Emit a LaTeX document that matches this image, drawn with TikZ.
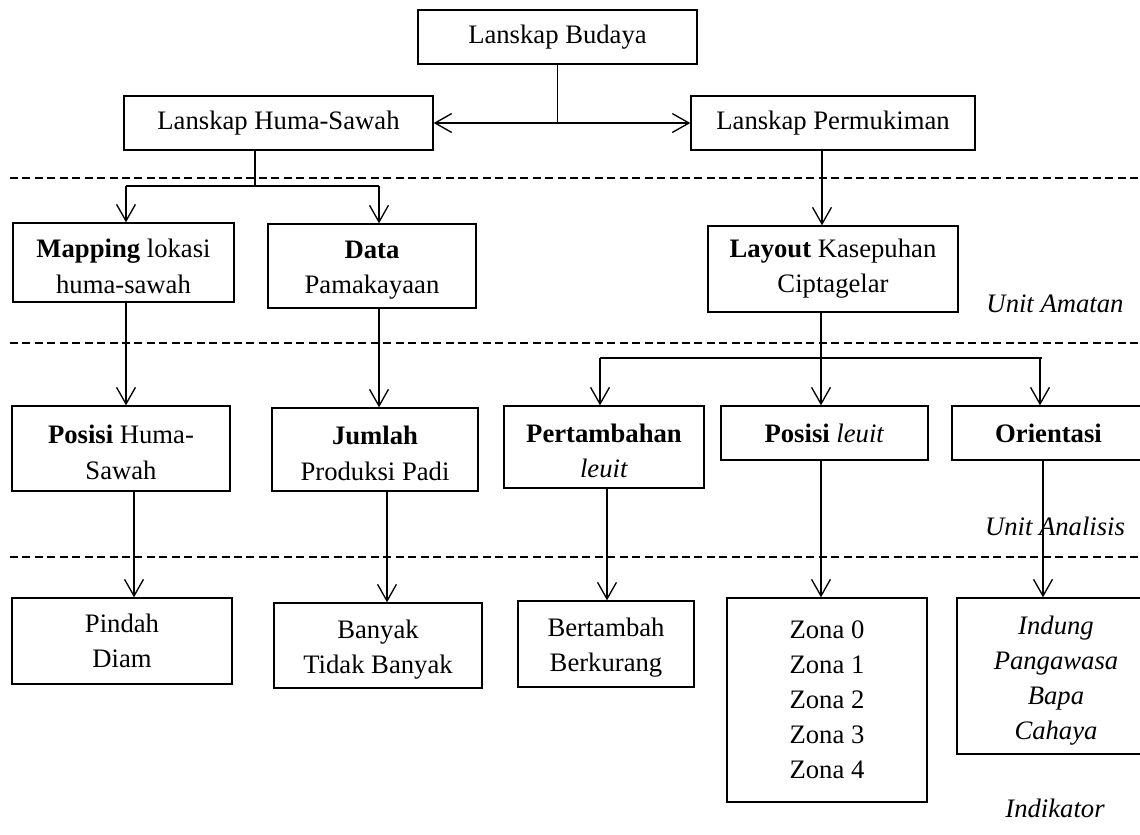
\documentclass[tikz,border=0pt]{standalone}
\usepackage{fontspec}
\setmainfont{Liberation Serif}
\usetikzlibrary{arrows.meta}
\newcommand{\px}{0.45pt}

\begin{document}
\begin{tikzpicture}[x=0.45pt, y=-0.45pt, line width=0.6pt,
    >={Straight Barb[length=7.5pt,width=8.5pt]},
    box/.style={draw=black, align=center, inner sep=0pt, font=\fontsize{12}{15.8}\selectfont},
    low/.style={text height=27.6pt},
    sep/.style={black, line width=0.5pt, dash pattern=on 3.6pt off 2pt},
    lvl/.style={font=\fontsize{12}{15.8}\selectfont\itshape}]
\clip (0,0) rectangle (1140,834);

\draw[sep] (10,178) -- (1140,178);
\draw[sep] (10,343) -- (1140,343);
\draw[sep] (10,557) -- (1140,557);

\node[box, minimum width=279*\px, minimum height=54*\px] (budaya) at (557.5,37) {Lanskap Budaya};
\node[box, minimum width=309*\px, minimum height=54*\px] (huma) at (278.5,123) {Lanskap Huma-Sawah};
\node[box, minimum width=284*\px, minimum height=54*\px] (perm) at (833,123) {Lanskap Permukiman};

\node[box, low, minimum width=221*\px, minimum height=79*\px] (map) at (123.5,262.5) {\textbf{Mapping} lokasi\\huma-sawah};
\node[box, low, minimum width=208*\px, minimum height=84*\px] (data) at (372,266) {\textbf{Data}\\Pamakayaan};
\node[box, minimum width=250*\px, minimum height=86*\px] (lay) at (833,269) {\textbf{Layout} Kasepuhan\\Ciptagelar};

\node[box, low, minimum width=218*\px, minimum height=85*\px] (poshs) at (121,448.5) {\textbf{Posisi} Huma-\\Sawah};
\node[box, low, minimum width=206*\px, minimum height=83*\px] (jml) at (375,449.5) {\textbf{Jumlah}\\Produksi Padi};
\node[box, low, minimum width=200*\px, minimum height=82*\px] (pert) at (604,447) {\textbf{Pertambahan}\\\textit{leuit}};
\node[box, minimum width=207*\px, minimum height=54*\px] (posl) at (824.5,433) {\textbf{Posisi} \textit{leuit}};
\node[box, minimum width=193*\px, minimum height=54*\px] (ori) at (1048.5,433) {\textbf{Orientasi}};

\node[box, minimum width=220*\px, minimum height=86*\px] (pindah) at (122,641) {Pindah\\Diam};
\node[box, low, minimum width=208*\px, minimum height=85*\px] (banyak) at (378,645.5) {Banyak\\Tidak Banyak};
\node[box, low, minimum width=176*\px, minimum height=86*\px] (bert) at (606,644) {Bertambah\\Berkurang};
\node[box, minimum width=200*\px, minimum height=204*\px] (zona) at (827,700) {Zona 0\\Zona 1\\Zona 2\\Zona 3\\Zona 4};
\node[box, text height=59.6pt, minimum width=198*\px, minimum height=156*\px] (indung) at (1056,676) {\textit{Indung}\\\textit{Pangawasa}\\\textit{Bapa}\\\textit{Cahaya}};

\node[lvl] (amatan) at (1055,304) {Unit Amatan};
\node[lvl] (analisis) at (1055,526) {Unit Analisis};
\node[lvl] (indikator) at (1055,808) {Indikator};

% top level
\draw (budaya.south) -- (budaya.south |- huma.east);
\draw[<->] (huma.east) -- (perm.west);

% huma-sawah branch
\coordinate (hsM) at (255,186);
\coordinate (hsL) at (126,186);
\coordinate (hsR) at (379,186);
\draw (hsM |- huma.south) -- (hsM);
\draw (hsL) -- (hsR);
\draw[->] (hsL) -- (hsL |- map.north);
\draw[->] (hsR) -- (hsR |- data.north);
\draw[->] (hsL |- map.south) -- (hsL |- poshs.north);
\draw[->] (hsR |- data.south) -- (hsR |- jml.north);

% permukiman branch
\coordinate (pmX) at (822,150);
\coordinate (lyL) at (600,358);
\coordinate (lyM) at (821,358);
\coordinate (lyR) at (1040,358);
\draw[->] (pmX |- perm.south) -- (pmX |- lay.north);
\draw[->] (lyM |- lay.south) -- (lyM |- posl.north);
\draw (lyL) -- ([xshift=1pt]lyR);
\draw[->] (lyL) -- (lyL |- pert.north);
\draw[->] (lyR) -- (lyR |- ori.north);

% indikator
\coordinate (inA) at (134,557);
\coordinate (inB) at (387,557);
\coordinate (inC) at (607,557);
\coordinate (inD) at (1043,557);
\draw[->] (inA |- poshs.south) -- (inA |- pindah.north);
\draw[->] (inB |- jml.south) -- (inB |- banyak.north);
\draw[->] (inC |- pert.south) -- (inC |- bert.north);
\draw[->] (lyM |- posl.south) -- (lyM |- zona.north);
\draw[->] (inD |- ori.south) -- (inD |- indung.north);
\end{tikzpicture}
\end{document}
